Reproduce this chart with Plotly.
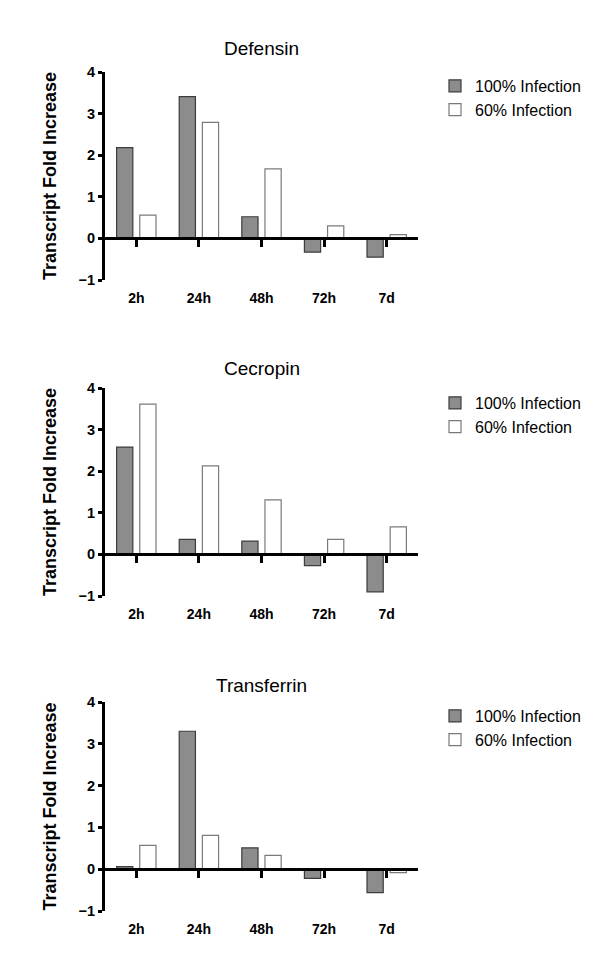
import plotly.graph_objects as go

categories = ["2h", "24h", "48h", "72h", "7d"]
titles = ["Defensin", "Cecropin", "Transferrin"]
series_names = ["100% Infection", "60% Infection"]

defensin_100 = [2.18, 3.41, 0.52, -0.33, -0.45]
defensin_60 = [0.56, 2.79, 1.67, 0.30, 0.09]
cecropin_100 = [2.58, 0.36, 0.32, -0.27, -0.90]
cecropin_60 = [3.61, 2.13, 1.31, 0.36, 0.66]
transferrin_100 = [0.06, 3.30, 0.51, -0.22, -0.56]
transferrin_60 = [0.57, 0.81, 0.33, 0.0, -0.08]

y_ticks = [-1, 0, 1, 2, 3, 4]
cat_positions = [0, 1, 2, 3, 4]

panels = [
    (defensin_100, defensin_60),
    (cecropin_100, cecropin_60),
    (transferrin_100, transferrin_60),
]

# the page body has an 8px margin, so the figure sits at (8, 8) in the window
OFF = 8
W, H = 608 - OFF, 953 - OFF
FONT = "Arial, 'Liberation Sans', sans-serif"


def px_x(p):
    return (p - OFF) / W


def px_y(p):
    return 1 - (p - OFF) / H


x_dom = [px_x(105), px_x(418)]
# window pixel top (y=4) and bottom (y=-1) of each panel
panel_px = [(72, 280), (388, 596), (702, 911)]
title_px = [48, 368, 685]
legend_px = [69, 386, 699]

fig = go.Figure()
layout = dict(
    width=W, height=H,
    margin=dict(l=0, r=0, t=0, b=0, autoexpand=False),
    paper_bgcolor="white", plot_bgcolor="white",
    barmode="group", bargap=0.26, bargroupgap=0.3,
    font=dict(family=FONT, color="black"),
    showlegend=True,
    annotations=[],
)

for i, (s100, s60) in enumerate(panels):
    n = i + 1
    xs = "" if n == 1 else str(n)
    top, bot = panel_px[i]
    y_dom = [px_y(bot), px_y(top)]
    leg = "legend" if n == 1 else f"legend{n}"
    fig.add_trace(go.Bar(
        x=categories, y=s100, name=series_names[0],
        marker=dict(color="#8c8c8c", line=dict(color="#3c3c3c", width=1.2)),
        xaxis=f"x{xs}", yaxis=f"y{xs}", legend=leg,
    ))
    fig.add_trace(go.Bar(
        x=categories, y=s60, name=series_names[1],
        marker=dict(color="white", line=dict(color="#7a7a7a", width=1.2)),
        xaxis=f"x{xs}", yaxis=f"y{xs}", legend=leg,
    ))
    # invisible helper trace so the zero-line axis gets drawn
    fig.add_trace(go.Scatter(
        x=cat_positions, y=[0] * len(cat_positions), mode="markers",
        marker=dict(opacity=0), showlegend=False, hoverinfo="skip",
        xaxis=f"x{n + 3}", yaxis=f"y{xs}",
    ))
    layout[f"xaxis{xs}"] = dict(
        domain=x_dom, anchor=f"y{xs}", type="category",
        categoryorder="array", categoryarray=categories,
        range=[-0.5, 4.5], showline=False, ticks="", showgrid=False,
        zeroline=False, automargin=False,
        tickfont=dict(size=14, weight="bold", color="black"),
        ticklabelstandoff=8,
    )
    layout[f"yaxis{xs}"] = dict(
        domain=y_dom, anchor=f"x{xs}", range=[-1, 4], tickvals=y_ticks,
        showline=True, linewidth=3, linecolor="black",
        ticks="outside", ticklen=4, tickwidth=2.5, tickcolor="black",
        showgrid=False, zeroline=False, automargin=True,
        tickfont=dict(size=14.5, weight="bold", color="black"),
        title=dict(text="Transcript Fold Increase", standoff=18,
                   font=dict(size=18, weight="bold", color="black")),
    )
    # overlay axis drawn along y = 0, with category ticks
    zero_pos = y_dom[0] + (0 - (-1)) / 5 * (y_dom[1] - y_dom[0])
    layout[f"xaxis{n + 3}"] = dict(
        overlaying=f"x{xs}", anchor="free", position=zero_pos,
        type="linear", range=[-0.5, 4.5], tickvals=cat_positions,
        showticklabels=False, showline=True, linewidth=3, linecolor="black",
        ticks="outside", ticklen=7, tickwidth=3, tickcolor="black",
        showgrid=False, zeroline=False, automargin=False,
    )
    layout["annotations"].append(dict(
        text=titles[i], xref="paper", yref="paper",
        x=(x_dom[0] + x_dom[1]) / 2, y=px_y(title_px[i]),
        xanchor="center", yanchor="middle", showarrow=False,
        font=dict(size=19, color="black"),
    ))
    layout[leg] = dict(
        x=px_x(435), y=px_y(legend_px[i]), xanchor="left", yanchor="top",
        bgcolor="rgba(0,0,0,0)", font=dict(size=16, color="black"),
        traceorder="normal",
    )

fig.update_layout(**layout)
fig.write_html("out.html")
